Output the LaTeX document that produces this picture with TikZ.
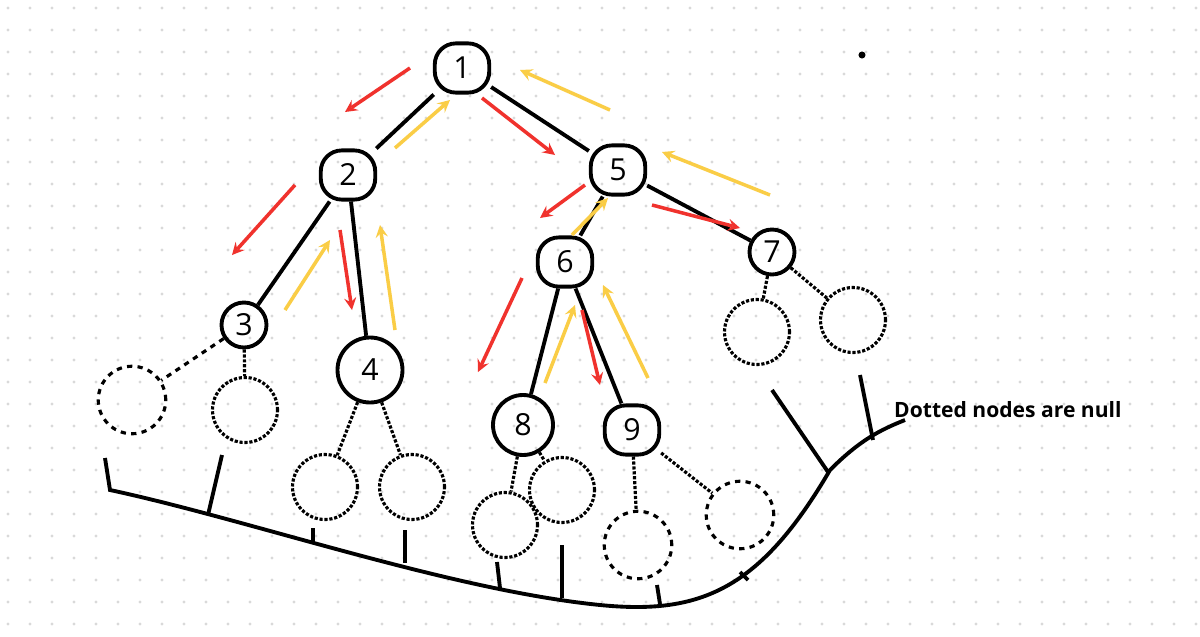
\documentclass[tikz,border=0pt]{standalone}
\usepackage{fontspec}
\setsansfont{Open Sans}
\begin{document}
\begin{tikzpicture}[x=0.02cm,y=-0.02cm,
  tn/.style={draw,line width=2.2pt,rounded corners=12pt,minimum width=31pt,minimum height=28pt,font=\sffamily\LARGE},
  nl/.style={draw,line width=1.8pt,dashed,circle,minimum size=1.35cm},
  nd/.style={draw,line width=1.8pt,densely dotted,circle,minimum size=1.3cm},
  ed/.style={line width=2.2pt},
  ra/.style={-stealth,line width=2pt,draw={rgb,255:red,240;green,50;blue,45}},
  ya/.style={-stealth,line width=2pt,draw={rgb,255:red,250;green,205;blue,70}}]
\useasboundingbox (0,0) rectangle (1200,636);
\fill[white] (0,0) rectangle (1200,636);
\foreach \i in {0,...,54}{\foreach \j in {0,...,28}{\fill[gray!30] (\i*22+8,\j*22+8) circle (0.9pt);}}
\node[tn] (n1) at (462,68) {1};
\node[tn] (n2) at (348,175) {2};
\node[tn] (n5) at (618,170) {5};
\node[tn,circle,minimum size=0.9cm] (n3) at (244,325) {3};
\node[tn,circle,minimum size=1.3cm] (n4) at (370,370) {4};
\node[tn] (n6) at (565,262) {6};
\node[tn,circle,minimum size=0.9cm] (n7) at (772,252) {7};
\node[tn,circle,minimum size=1.2cm] (n8) at (523,425) {8};
\node[tn] (n9) at (632,430) {9};
\draw[ed] (n1)--(n2); \draw[ed] (n1)--(n5); \draw[ed] (n2)--(n3); \draw[ed] (n2)--(n4);
\draw[ed] (n5)--(n6); \draw[ed] (n5)--(n7); \draw[ed] (n6)--(n8); \draw[ed] (n6)--(n9);
\node[nl] (a) at (132,400) {}; \node[nd] (b) at (245,410) {};
\node[nd] (c) at (325,487) {}; \node[nd] (d) at (412,487) {};
\node[nd] (e) at (505,525) {}; \node[nd] (f) at (562,490) {};
\node[nl] (g) at (638,545) {}; \node[nl] (h) at (740,515) {};
\node[nd] (i) at (757,332) {}; \node[nd] (j) at (853,320) {};
\draw[line width=1.8pt,dashed] (n3)--(a); \draw[line width=1.8pt,densely dotted] (n3)--(b);
\draw[line width=1.8pt,densely dotted] (n4)--(c); \draw[line width=1.8pt,densely dotted] (n4)--(d);
\draw[line width=1.8pt,densely dotted] (n8)--(e); \draw[line width=1.8pt,densely dotted] (n8)--(f);
\draw[line width=1.8pt,densely dotted] (n9)--(g); \draw[line width=1.8pt,densely dotted] (n9)--(h);
\draw[line width=1.8pt,densely dotted] (n7)--(i); \draw[line width=1.8pt,densely dotted] (n7)--(j);
\draw[ed] (105,458) -- (110,490) .. controls (250,520) and (450,590) .. (600,605) .. controls (700,615) and (760,590) .. (830,470) .. controls (860,440) and (880,430) .. (905,420);
\coordinate (tb) at (208,515); \coordinate (tc) at (313,541); \coordinate (td) at (405,563);
\coordinate (te) at (500,588); \coordinate (tf) at (562,598); \coordinate (tg) at (660,604); \coordinate (th) at (748,580);
\coordinate (ti) at (828,472); \coordinate (tj) at (873,440);
\coordinate (ub) at (222,455); \coordinate (uc) at (313,528); \coordinate (ud) at (405,530);
\coordinate (ue) at (497,562); \coordinate (uf) at (562,545); \coordinate (ug) at (657,585); \coordinate (uh) at (740,572);
\coordinate (ui) at (772,390); \coordinate (uj) at (860,375);
\draw[ed] (ub) -- (tb); \draw[ed] (uc) -- (tc); \draw[ed] (ud) -- (td);
\draw[ed] (ue) -- (te); \draw[ed] (uf) -- (tf); \draw[ed] (ug) -- (tg); \draw[ed] (uh) -- (th);
\draw[ed] (ui) -- (ti); \draw[ed] (uj) -- (tj);
\draw[ra] (410,68)--(345,112); \draw[ra] (482,98)--(555,155); \draw[ra] (295,185)--(232,255);
\draw[ra] (340,230)--(352,310); \draw[ra] (585,185)--(540,218); \draw[ra] (652,205)--(740,228);
\draw[ra] (522,278)--(478,372); \draw[ra] (582,310)--(600,385);
\draw[ya] (395,148)--(450,100); \draw[ya] (610,110)--(520,70); \draw[ya] (770,195)--(662,152);
\draw[ya] (285,310)--(330,240); \draw[ya] (395,330)--(380,225); \draw[ya] (572,235)--(608,198);
\draw[ya] (545,383)--(575,305); \draw[ya] (648,378)--(603,285);
\node[font=\sffamily\bfseries\large,anchor=west] (t) at (888,410) {Dotted nodes are null};
\fill (862,55) circle (2pt);
\end{tikzpicture}
\end{document}
